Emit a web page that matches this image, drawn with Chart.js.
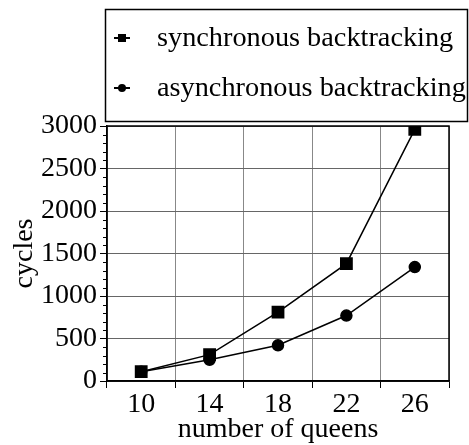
<!DOCTYPE html>
<html>
<head>
<meta charset="utf-8">
<script src="https://cdn.jsdelivr.net/npm/chart.js@4/dist/chart.umd.min.js"></script>
<style>
  html, body { margin: 0; padding: 0; background: #fff; }
  #wrap { width: 469px; height: 445px; }
</style>
</head>
<body>
<div id="wrap"><canvas id="chart"></canvas></div>
<script>
// data
const queens = ['10', '14', '18', '22', '26'];
const syncCycles = [110, 310, 810, 1380, 2960];
const asyncCycles = [110, 250, 420, 770, 1340];
const seriesNames = ['synchronous backtracking', 'asynchronous backtracking'];
const yMin = 0, yMax = 3000, yStep = 500, yMinorStep = 100;

const serif = 'Liberation Serif';

// legend in a box at the top right, drawn from the datasets
const boxLegend = {
    id: 'boxLegend',
    afterDraw(chart) {
        const ctx = chart.ctx;
        ctx.save();
        ctx.strokeStyle = '#000';
        ctx.lineWidth = 1.5;
        ctx.strokeRect(105.5, 9.5, 362, 112);
        ctx.font = '28.3px "' + serif + '"';
        ctx.textBaseline = 'middle';
        ctx.fillStyle = '#000';
        const rows = [38, 88];
        chart.data.datasets.forEach((ds, i) => {
            const y = rows[i];
            ctx.beginPath();
            ctx.moveTo(114, y);
            ctx.lineTo(130, y);
            ctx.lineWidth = 2;
            ctx.stroke();
            if (ds.pointStyle === 'rect') {
                ctx.fillRect(118, y - 4, 8, 8);
            } else {
                ctx.beginPath();
                ctx.arc(122, y, 4, 0, Math.PI * 2);
                ctx.fill();
            }
            ctx.fillText(ds.label, 157, y + 1);
        });
        ctx.restore();
    }
};

// frame around the plot and minor ticks on the y axis
const frameAndMinor = {
    id: 'frameAndMinor',
    afterDraw(chart) {
        const ctx = chart.ctx;
        const a = chart.chartArea;
        const ys = chart.scales.y;
        ctx.save();
        ctx.strokeStyle = '#000';
        ctx.lineWidth = 1.5;
        ctx.strokeRect(a.left, a.top, a.right - a.left, a.bottom - a.top);
        ctx.lineWidth = 1;
        for (let v = yMin; v <= yMax; v += yMinorStep) {
            if (v % yStep === 0) continue;
            const p = Math.round(ys.getPixelForValue(v)) + 0.5;
            ctx.beginPath();
            ctx.moveTo(a.left - 4, p);
            ctx.lineTo(a.left, p);
            ctx.stroke();
        }
        ctx.restore();
    }
};

new Chart(document.getElementById('chart'), {
    type: 'line',
    data: {
        labels: queens,
        datasets: [
            {
                label: seriesNames[0], data: syncCycles,
                borderColor: '#000', backgroundColor: '#000', borderWidth: 1.5,
                pointStyle: 'rect', pointRadius: 8, pointHoverRadius: 8, tension: 0
            },
            {
                label: seriesNames[1], data: asyncCycles,
                borderColor: '#000', backgroundColor: '#000', borderWidth: 1.5,
                pointStyle: 'circle', pointRadius: 5.5, pointHoverRadius: 5.5, tension: 0
            }
        ]
    },
    options: {
        responsive: true,
        maintainAspectRatio: false,
        animation: false,
        layout: { padding: { top: 126, right: 20, left: 0, bottom: 0 } },
        plugins: { legend: { display: false }, tooltip: { enabled: false } },
        scales: {
            x: {
                type: 'category',
                offset: true,
                grid: { offset: true, color: '#888', lineWidth: 1, tickLength: 7, tickColor: '#000' },
                border: { color: '#000', width: 1.5 },
                ticks: { color: '#000', font: { family: serif, size: 28 }, padding: 0, maxRotation: 0 },
                title: { display: true, text: 'number of queens', color: '#000', font: { family: serif, size: 28 }, padding: { top: 0, bottom: -1 } },
                afterFit(scale) { scale.height = 64; }
            },
            y: {
                min: yMin, max: yMax,
                grid: { color: '#666', lineWidth: 1, tickLength: 7, tickColor: '#000' },
                border: { color: '#000', width: 1.5 },
                ticks: { stepSize: yStep, color: '#000', font: { family: serif, size: 28 }, padding: 3, callback: v => String(v) },
                title: { display: true, text: 'cycles', color: '#000', font: { family: serif, size: 28 }, padding: { top: 8, bottom: 0 } },
                afterFit(scale) { scale.width = 107; }
            }
        }
    },
    plugins: [boxLegend, frameAndMinor]
});
</script>
</body>
</html>
